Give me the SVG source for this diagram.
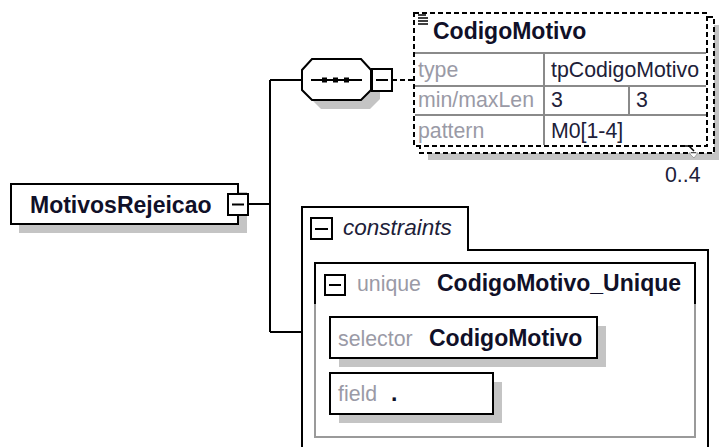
<svg xmlns="http://www.w3.org/2000/svg" width="719" height="447" viewBox="0 0 719 447">
<style>
.ln{stroke:#000;stroke-width:2;fill:none}
.box{stroke:#000;stroke-width:2;fill:#fff}
.dash{stroke:#000;stroke-width:2;fill:#fff;stroke-dasharray:5,3}
.shadow{fill:#c4c4c4}
.grid{stroke:#8a8a8a;stroke-width:2;fill:none}
.b{font-family:"Liberation Sans",Arial,sans-serif;font-weight:bold;font-size:23px;fill:#101028}
.g{font-family:"Liberation Sans",Arial,sans-serif;font-size:21.3px;fill:#9a9aa6}
.v{font-family:"Liberation Sans",Arial,sans-serif;font-size:21.3px;fill:#202038}
.i{font-family:"Liberation Sans",Arial,sans-serif;font-size:22.5px;font-style:italic;fill:#202038}
</style>
<g id="connectors">
<path class="ln" d="M248,204 H270 M270,80 V332 M270,80 H302 M270,332 H302"/>
<path class="ln" d="M392,80 H414" stroke-dasharray="5,3"/>
</g>
<g id="MotivosRejeicao">
<rect class="shadow" x="19" y="192" width="228" height="41"/>
<rect class="box" x="11" y="184" width="227" height="40"/>
<text class="b" x="30" y="213" font-size="23.6">MotivosRejeicao</text>
<rect class="box" x="228" y="194" width="20" height="21"/>
<path class="ln" d="M232,204.5 H244"/>
</g>
<g id="sequence">
<polygon class="shadow" points="321,68 370,68 380,79 380,99 370,109 321,109 311,99 311,79"/>
<polygon class="box" points="312,59 361,59 371,70 371,90 361,100 312,100 302,90 302,70"/>
<path class="ln" d="M311,80 H362"/>
<rect x="322" y="77.5" width="5" height="5" fill="#000"/>
<rect x="333" y="77.5" width="5" height="5" fill="#000"/>
<rect x="344" y="77.5" width="5" height="5" fill="#000"/>
<rect class="box" x="372" y="69" width="20" height="22"/>
<path class="ln" d="M376,80 H388"/>
</g>
<g id="CodigoMotivo">
<rect class="shadow" x="428" y="25" width="300" height="135"/>
<rect class="dash" x="420" y="17" width="294" height="136"/>
<rect class="dash" x="414" y="13" width="293" height="133"/>
<path d="M418,15 H426 M418,18 H428 M418,21 H428 M418,24 H428" stroke="#000" stroke-width="1.3"/>
<text class="b" x="433" y="39">CodigoMotivo</text>
<path class="grid" d="M415,53 H706 M415,86 H706 M415,115 H706 M544,53 V145 M629,86 V115"/>
<text class="g" x="418" y="77">type</text>
<text class="v" x="551" y="77">tpCodigoMotivo</text>
<text class="g" x="418" y="107">min/maxLen</text>
<text class="v" x="551" y="107">3</text>
<text class="v" x="636" y="107">3</text>
<text class="g" x="418" y="138">pattern</text>
<text class="v" x="551" y="138">M0[1-4]</text>
<path d="M680,146 H689 L694,151" stroke="#000" stroke-width="1.5" fill="none"/>
<polygon points="689,153 698,153 694,158" fill="#fff" stroke="#a0a0a0" stroke-width="1"/>
<text class="v" x="665" y="182">0..4</text>
</g>
<g id="constraints">
<path class="box" d="M302,460 V207 H468 V250 H708 V460"/>
<rect class="box" x="311" y="218" width="21" height="21"/>
<path class="ln" d="M315,229 H328"/>
<text class="i" x="343" y="235">constraints</text>
</g>
<g id="CodigoMotivo_Unique">
<rect x="315" y="263" width="380" height="174" fill="#fff" stroke="#9a9a9a" stroke-width="2"/>
<path class="ln" d="M315,304 V263 H695 V304"/>
<rect class="box" x="325" y="275" width="20" height="20"/>
<path class="ln" d="M329,285 H341"/>
<text class="g" x="357" y="291">unique</text>
<text class="b" x="437" y="291">CodigoMotivo_Unique</text>
</g>
<g id="selector">
<rect class="shadow" x="339" y="326" width="267" height="41"/>
<rect class="box" x="330" y="317" width="267" height="41"/>
<text class="g" x="338" y="346">selector</text>
<text class="b" x="429" y="346">CodigoMotivo</text>
</g>
<g id="field">
<rect class="shadow" x="339" y="382" width="163" height="41"/>
<rect class="box" x="330" y="373" width="163" height="41"/>
<text class="g" x="338" y="401">field</text>
<text class="b" x="391" y="401">.</text>
</g>
</svg>
